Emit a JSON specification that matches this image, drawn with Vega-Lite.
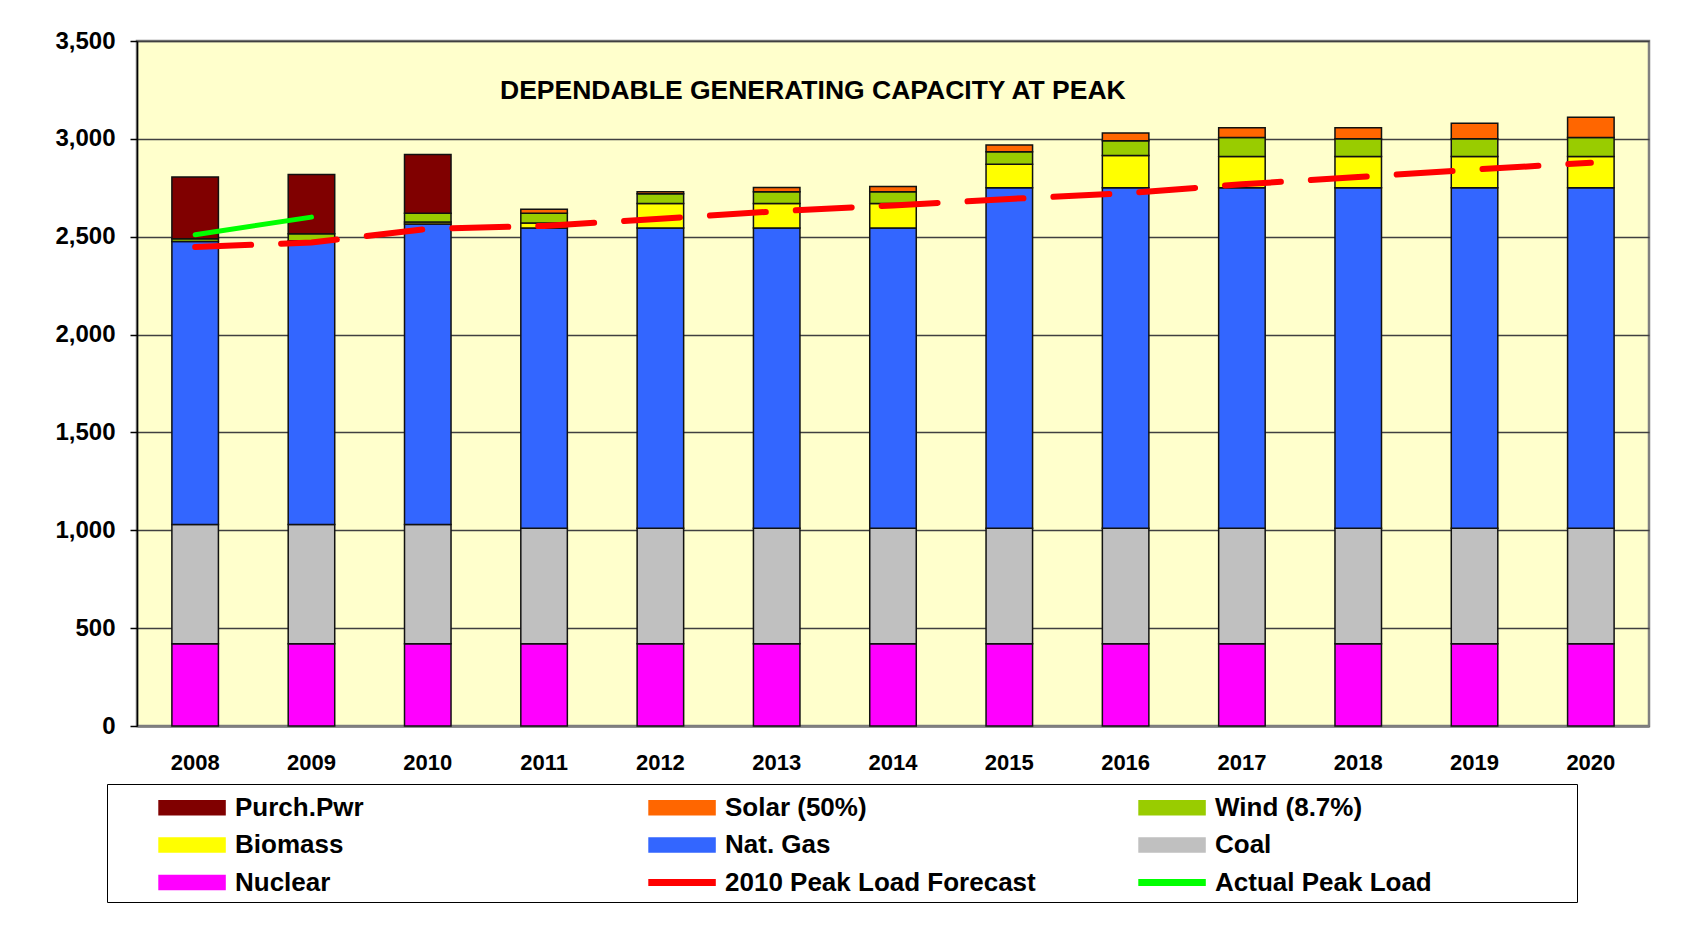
{
  "$schema": "https://vega.github.io/schema/vega-lite/v6.json",
  "width": 1512,
  "height": 685,
  "autosize": {"type": "none"},
  "padding": {"left": 137, "top": 41, "right": 33, "bottom": 201},
  "background": "white",
  "config": {
    "font": "Liberation Sans",
    "view": {"fill": "#FFFFCC", "stroke": "#808080", "strokeWidth": 2.5}
  },
  "title": {
    "text": "DEPENDABLE  GENERATING  CAPACITY  AT PEAK",
    "anchor": "start",
    "frame": "group",
    "orient": "top",
    "offset": 0,
    "dx": 363,
    "dy": 88,
    "baseline": "middle",
    "fontSize": 26.5,
    "fontWeight": "bold",
    "font": "Liberation Sans",
    "color": "#000000"
  },
  "datasets": {
    "capacity": [
      {"year": "2008", "source": "Nuclear", "mw": 420},
      {"year": "2008", "source": "Coal", "mw": 610},
      {"year": "2008", "source": "Nat. Gas", "mw": 1445},
      {"year": "2008", "source": "Wind (8.7%)", "mw": 15},
      {"year": "2008", "source": "Purch.Pwr", "mw": 315},
      {"year": "2009", "source": "Nuclear", "mw": 420},
      {"year": "2009", "source": "Coal", "mw": 610},
      {"year": "2009", "source": "Nat. Gas", "mw": 1450},
      {"year": "2009", "source": "Wind (8.7%)", "mw": 35},
      {"year": "2009", "source": "Purch.Pwr", "mw": 303},
      {"year": "2010", "source": "Nuclear", "mw": 420},
      {"year": "2010", "source": "Coal", "mw": 610},
      {"year": "2010", "source": "Nat. Gas", "mw": 1535},
      {"year": "2010", "source": "Biomass", "mw": 10},
      {"year": "2010", "source": "Wind (8.7%)", "mw": 45},
      {"year": "2010", "source": "Purch.Pwr", "mw": 300},
      {"year": "2011", "source": "Nuclear", "mw": 420},
      {"year": "2011", "source": "Coal", "mw": 590},
      {"year": "2011", "source": "Nat. Gas", "mw": 1535},
      {"year": "2011", "source": "Biomass", "mw": 25},
      {"year": "2011", "source": "Wind (8.7%)", "mw": 50},
      {"year": "2011", "source": "Solar (50%)", "mw": 20},
      {"year": "2012", "source": "Nuclear", "mw": 420},
      {"year": "2012", "source": "Coal", "mw": 590},
      {"year": "2012", "source": "Nat. Gas", "mw": 1535},
      {"year": "2012", "source": "Biomass", "mw": 125},
      {"year": "2012", "source": "Wind (8.7%)", "mw": 50},
      {"year": "2012", "source": "Solar (50%)", "mw": 10},
      {"year": "2013", "source": "Nuclear", "mw": 420},
      {"year": "2013", "source": "Coal", "mw": 590},
      {"year": "2013", "source": "Nat. Gas", "mw": 1535},
      {"year": "2013", "source": "Biomass", "mw": 125},
      {"year": "2013", "source": "Wind (8.7%)", "mw": 60},
      {"year": "2013", "source": "Solar (50%)", "mw": 22},
      {"year": "2014", "source": "Nuclear", "mw": 420},
      {"year": "2014", "source": "Coal", "mw": 590},
      {"year": "2014", "source": "Nat. Gas", "mw": 1535},
      {"year": "2014", "source": "Biomass", "mw": 125},
      {"year": "2014", "source": "Wind (8.7%)", "mw": 60},
      {"year": "2014", "source": "Solar (50%)", "mw": 27},
      {"year": "2015", "source": "Nuclear", "mw": 420},
      {"year": "2015", "source": "Coal", "mw": 590},
      {"year": "2015", "source": "Nat. Gas", "mw": 1740},
      {"year": "2015", "source": "Biomass", "mw": 120},
      {"year": "2015", "source": "Wind (8.7%)", "mw": 64},
      {"year": "2015", "source": "Solar (50%)", "mw": 35},
      {"year": "2016", "source": "Nuclear", "mw": 420},
      {"year": "2016", "source": "Coal", "mw": 590},
      {"year": "2016", "source": "Nat. Gas", "mw": 1740},
      {"year": "2016", "source": "Biomass", "mw": 165},
      {"year": "2016", "source": "Wind (8.7%)", "mw": 75},
      {"year": "2016", "source": "Solar (50%)", "mw": 40},
      {"year": "2017", "source": "Nuclear", "mw": 420},
      {"year": "2017", "source": "Coal", "mw": 590},
      {"year": "2017", "source": "Nat. Gas", "mw": 1740},
      {"year": "2017", "source": "Biomass", "mw": 160},
      {"year": "2017", "source": "Wind (8.7%)", "mw": 97},
      {"year": "2017", "source": "Solar (50%)", "mw": 50},
      {"year": "2018", "source": "Nuclear", "mw": 420},
      {"year": "2018", "source": "Coal", "mw": 590},
      {"year": "2018", "source": "Nat. Gas", "mw": 1740},
      {"year": "2018", "source": "Biomass", "mw": 160},
      {"year": "2018", "source": "Wind (8.7%)", "mw": 90},
      {"year": "2018", "source": "Solar (50%)", "mw": 57},
      {"year": "2019", "source": "Nuclear", "mw": 420},
      {"year": "2019", "source": "Coal", "mw": 590},
      {"year": "2019", "source": "Nat. Gas", "mw": 1740},
      {"year": "2019", "source": "Biomass", "mw": 160},
      {"year": "2019", "source": "Wind (8.7%)", "mw": 90},
      {"year": "2019", "source": "Solar (50%)", "mw": 80},
      {"year": "2020", "source": "Nuclear", "mw": 420},
      {"year": "2020", "source": "Coal", "mw": 590},
      {"year": "2020", "source": "Nat. Gas", "mw": 1740},
      {"year": "2020", "source": "Biomass", "mw": 160},
      {"year": "2020", "source": "Wind (8.7%)", "mw": 97},
      {"year": "2020", "source": "Solar (50%)", "mw": 103}
    ],
    "forecast": [
      {"year": "2008", "series": "2010 Peak Load Forecast", "mw": 2448},
      {"year": "2009", "series": "2010 Peak Load Forecast", "mw": 2470},
      {"year": "2010", "series": "2010 Peak Load Forecast", "mw": 2540},
      {"year": "2011", "series": "2010 Peak Load Forecast", "mw": 2555},
      {"year": "2012", "series": "2010 Peak Load Forecast", "mw": 2592},
      {"year": "2013", "series": "2010 Peak Load Forecast", "mw": 2630},
      {"year": "2014", "series": "2010 Peak Load Forecast", "mw": 2660},
      {"year": "2015", "series": "2010 Peak Load Forecast", "mw": 2693},
      {"year": "2016", "series": "2010 Peak Load Forecast", "mw": 2722},
      {"year": "2017", "series": "2010 Peak Load Forecast", "mw": 2768},
      {"year": "2018", "series": "2010 Peak Load Forecast", "mw": 2805},
      {"year": "2019", "series": "2010 Peak Load Forecast", "mw": 2843},
      {"year": "2020", "series": "2010 Peak Load Forecast", "mw": 2878}
    ],
    "actual": [
      {"year": "2008", "series": "Actual Peak Load", "mw": 2510},
      {"year": "2009", "series": "Actual Peak Load", "mw": 2600}
    ]
  },
  "encoding": {
    "x": {
      "field": "year",
      "type": "ordinal",
      "title": null,
      "scale": {"paddingInner": 0.6, "paddingOuter": 0.3},
      "axis": {
        "labelAngle": 0,
        "labelFont": "Liberation Sans",
        "labelFontSize": 22,
        "labelFontWeight": "bold",
        "labelColor": "#000000",
        "labelPadding": 26,
        "ticks": false,
        "domainColor": "#808080",
        "domainWidth": 2.5,
        "grid": false
      }
    },
    "y": {
      "field": "mw",
      "type": "quantitative",
      "title": null,
      "scale": {"domain": [0, 3500], "nice": false},
      "axis": {
        "values": [0, 500, 1000, 1500, 2000, 2500, 3000, 3500],
        "format": ",d",
        "labelFont": "Liberation Sans",
        "labelFontSize": 24,
        "labelFontWeight": "bold",
        "labelColor": "#000000",
        "labelPadding": 15,
        "tickSize": 7,
        "tickColor": "#000000",
        "tickWidth": 1.5,
        "domainColor": "#000000",
        "domainWidth": 1.5,
        "grid": true,
        "gridColor": "#404040",
        "gridWidth": 1.5
      }
    }
  },
  "layer": [
    {
      "data": {"name": "capacity"},
      "mark": {"type": "bar", "stroke": "#111111", "strokeWidth": 1.5},
      "encoding": {
        "y": {"field": "mw", "type": "quantitative", "stack": "zero"},
        "order": {"field": "year"},
        "color": {
          "field": "source",
          "type": "nominal",
          "scale": {
            "domain": ["Purch.Pwr", "Solar (50%)", "Wind (8.7%)", "Biomass", "Nat. Gas", "Coal", "Nuclear", "2010 Peak Load Forecast", "Actual Peak Load"],
            "range": ["#800000", "#FF6600", "#99CC00", "#FFFF00", "#3366FF", "#C0C0C0", "#FF00FF", "#FF0000", "#00FF00"]
          },
          "legend": {
            "title": " ",
            "titleOrient": "right",
            "titleFontSize": 10,
            "titlePadding": 139,
            "orient": "none",
            "direction": "horizontal",
            "legendX": -30,
            "legendY": 743,
            "columns": 3,
            "gridAlign": "all",
            "padding": 6,
            "strokeColor": "#000000",
            "fillColor": "#FFFFFF",
            "symbolSize": 1089,
            "symbolType": {"expr": "indexof(['2010 Peak Load Forecast','Actual Peak Load'], datum.value) >= 0 ? 'M1.73,-0.16H5.73V0.16H1.73Z' : 'M1.73,-0.42H5.73V0.42H1.73Z'"},
            "symbolStrokeColor": {"expr": "indexof(['2010 Peak Load Forecast','Actual Peak Load'], datum.value) >= 0 ? scale('color', datum.value) : '#222222'"},
            "symbolStrokeWidth": 1.5,
            "symbolOpacity": 1,
            "labelFont": "Liberation Sans",
            "labelFontSize": 26,
            "labelFontWeight": "bold",
            "labelColor": "#000000",
            "labelOffset": 87,
            "labelLimit": 400,
            "columnPadding": 57,
            "rowPadding": 6.5
          }
        }
      }
    },
    {
      "data": {"name": "forecast"},
      "mark": {"type": "line", "strokeWidth": 6, "strokeDash": [56, 30], "strokeCap": "round"},
      "encoding": {
        "color": {
          "field": "series",
          "type": "nominal",
          "scale": {
            "domain": ["Purch.Pwr", "Solar (50%)", "Wind (8.7%)", "Biomass", "Nat. Gas", "Coal", "Nuclear", "2010 Peak Load Forecast", "Actual Peak Load"],
            "range": ["#800000", "#FF6600", "#99CC00", "#FFFF00", "#3366FF", "#C0C0C0", "#FF00FF", "#FF0000", "#00FF00"]
          }
        }
      }
    },
    {
      "data": {"name": "actual"},
      "mark": {"type": "line", "strokeWidth": 5, "strokeCap": "round"},
      "encoding": {
        "color": {
          "field": "series",
          "type": "nominal",
          "scale": {
            "domain": ["Purch.Pwr", "Solar (50%)", "Wind (8.7%)", "Biomass", "Nat. Gas", "Coal", "Nuclear", "2010 Peak Load Forecast", "Actual Peak Load"],
            "range": ["#800000", "#FF6600", "#99CC00", "#FFFF00", "#3366FF", "#C0C0C0", "#FF00FF", "#FF0000", "#00FF00"]
          }
        }
      }
    }
  ]
}
